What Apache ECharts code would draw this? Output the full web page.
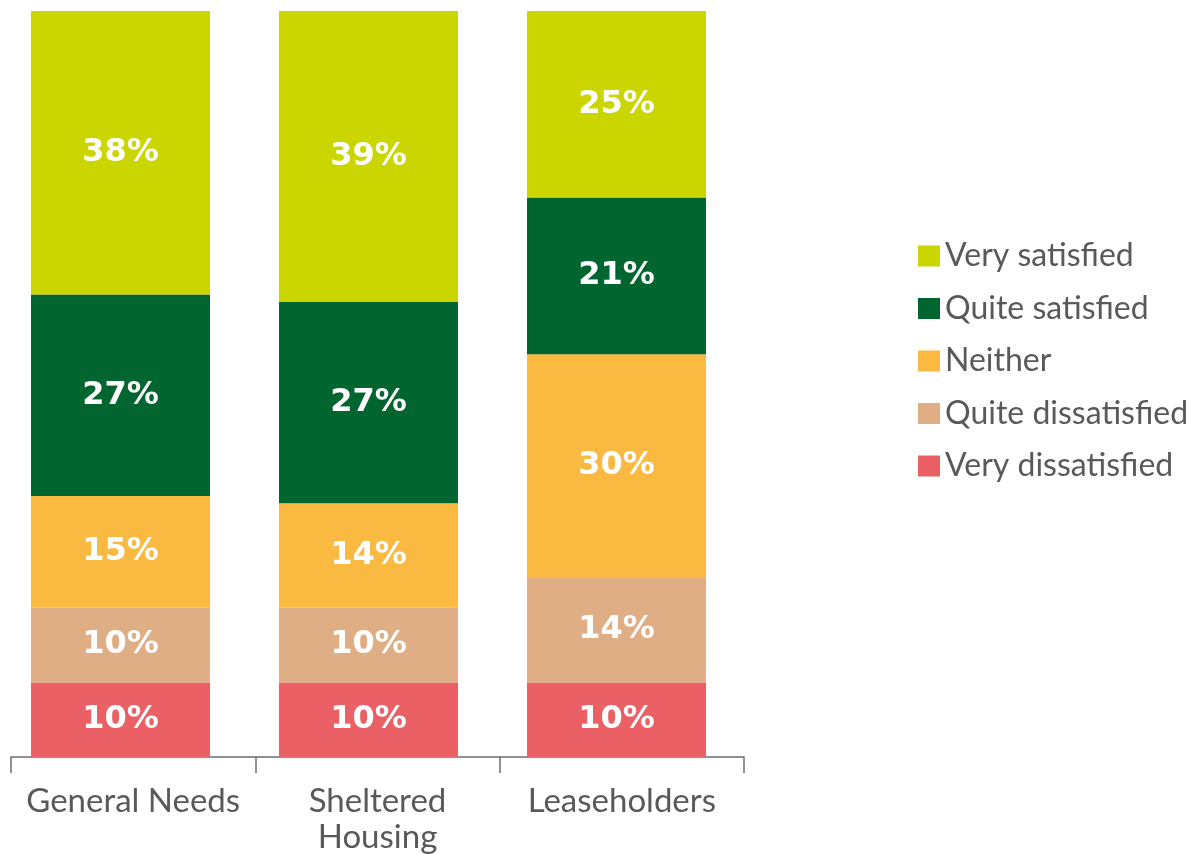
<!DOCTYPE html>
<html><head><meta charset="utf-8">
<script src="https://cdn.jsdelivr.net/npm/echarts@6/dist/echarts.min.js"></script>
<style>html,body{margin:0;padding:0;background:#fff}#c{width:1193px;height:854px}</style>
</head><body><div id="c"></div>
<script>
const categories = ['General Needs', 'Sheltered\nHousing', 'Leaseholders'];
const seriesNames = ['Very satisfied', 'Quite satisfied', 'Neither', 'Quite dissatisfied', 'Very dissatisfied'];
const veryDissatisfied = [10, 10, 10];
const quiteDissatisfied = [10, 10, 14];
const neither = [15, 14, 30];
const quiteSatisfied = [27, 27, 21];
const verySatisfied = [38, 39, 25];
const colors = {
  'Very satisfied': '#CBD500',
  'Quite satisfied': '#00652F',
  'Neither': '#FAB941',
  'Quite dissatisfied': '#E0AE85',
  'Very dissatisfied': '#EB6064'
};
const stackOrder = [
  ['Very dissatisfied', veryDissatisfied],
  ['Quite dissatisfied', quiteDissatisfied],
  ['Neither', neither],
  ['Quite satisfied', quiteSatisfied],
  ['Very satisfied', verySatisfied]
];
const chart = echarts.init(document.getElementById('c'));
chart.setOption({
  animation: false,
  backgroundColor: '#fff',
  grid: [
    {left: -3.5, width: 744, top: 11, height: 746, outerBoundsMode: 'none', containLabel: false},
    {left: 11, width: 733, top: 11, height: 746, outerBoundsMode: 'none', containLabel: false}
  ],
  xAxis: [
    {type: 'category', gridIndex: 0, data: categories, show: false},
    {type: 'category', gridIndex: 1, data: categories,
     axisLine: {show: true, lineStyle: {color: '#6e6e6e', width: 1.5}},
     axisTick: {show: true, interval: 0, length: 16, lineStyle: {color: '#6e6e6e', width: 1.5}},
     axisLabel: {show: true, interval: 0, hideOverlap: false, color: '#595959', fontFamily: 'Lato', fontSize: 33, margin: 26, lineHeight: 36}}
  ],
  yAxis: [
    {type: 'value', gridIndex: 0, min: 0, max: 100, show: false},
    {type: 'value', gridIndex: 1, min: 0, max: 100, show: false}
  ],
  legend: {
    data: seriesNames,
    orient: 'vertical',
    left: 913, top: 235,
    itemWidth: 22, itemHeight: 21, itemGap: 20.5,
    icon: 'rect',
    textStyle: {color: '#595959', fontFamily: 'Lato', fontSize: 32, lineHeight: 28, padding: [0,0,0,0]},
    itemStyle: {borderWidth: 0}
  },
  series: stackOrder.map(([name, vals]) => ({
    name, type: 'bar', stack: 'all', xAxisIndex: 0, yAxisIndex: 0,
    data: vals, barWidth: 179,
    itemStyle: {color: colors[name]},
    label: {show: true, position: 'inside', formatter: '{c}%', color: '#fff',
      fontFamily: 'DejaVu Sans', fontWeight: 'bold', fontSize: 32}
  }))
});
</script></body></html>
